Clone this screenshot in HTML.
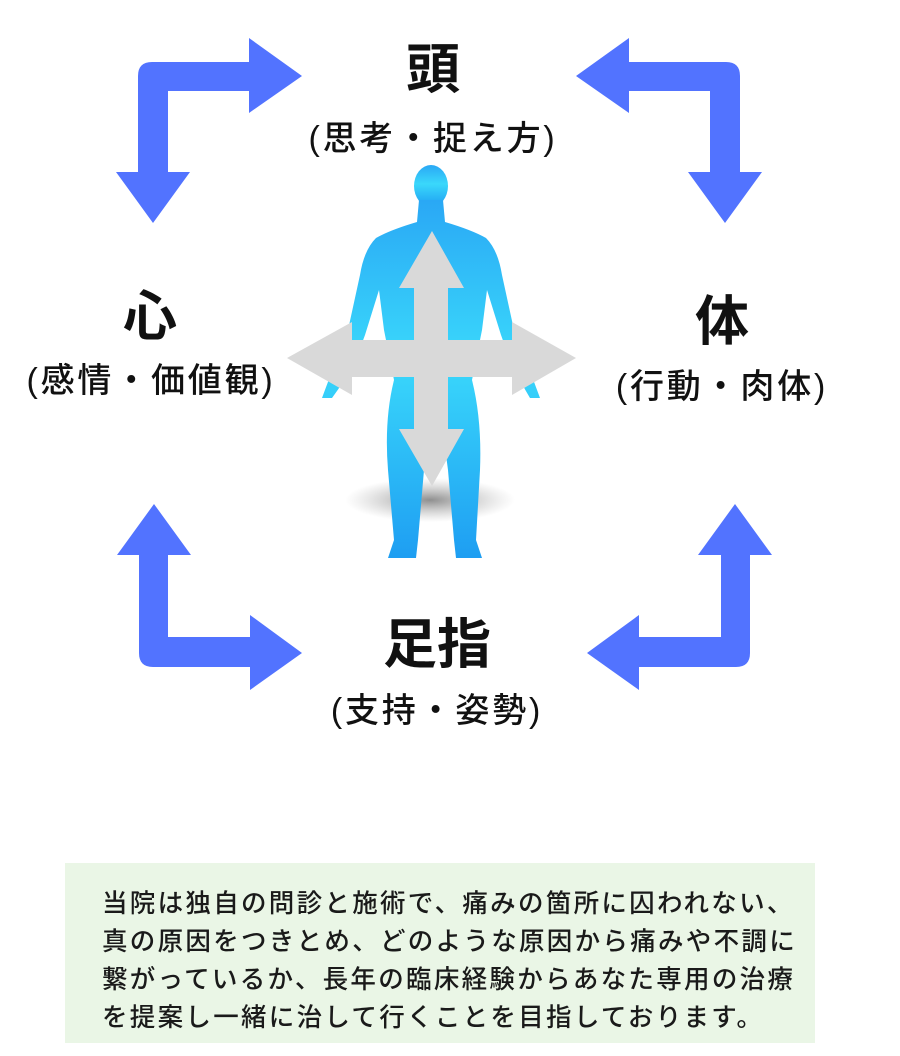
<!DOCTYPE html>
<html><head><meta charset="utf-8"><style>
html,body{margin:0;padding:0;background:#fff}
body{width:900px;height:1056px;position:relative;overflow:hidden;font-family:"Liberation Sans","Noto Sans CJK JP",sans-serif;color:#111}
.t{position:absolute;text-align:center;white-space:nowrap;line-height:1}
.big{font-size:54px;font-weight:bold}
.lab{font-size:34px;font-weight:500;letter-spacing:2.8px}
.box{position:absolute;left:65px;top:863px;width:750px;height:180px;background:#eaf6e6}
.box p{margin:0;position:absolute;left:37px;top:20px;font-size:25.5px;font-weight:500;line-height:38px;letter-spacing:2.3px;white-space:nowrap;font-family:"Noto Sans CJK JP",sans-serif;color:#1a1a1a}
</style></head><body>
<svg width="900" height="1056" style="position:absolute;left:0;top:0">
<defs>
<linearGradient id="bg" x1="0" y1="0" x2="0" y2="1"><stop offset="0" stop-color="#2aa8f5"/><stop offset="0.45" stop-color="#3ad8fb"/><stop offset="1" stop-color="#1e9ef2"/></linearGradient>
<radialGradient id="sh"><stop offset="0" stop-color="#444" stop-opacity=".6"/><stop offset="1" stop-color="#888" stop-opacity="0"/></radialGradient>
</defs>
<g fill="#5273ff">
<path d="M138,76 Q138,62 152,62 L249,62 L249,38 L302,76 L249,113 L249,91 L168,91 L168,172 L190,172 L153,223 L116,172 L138,172 Z"/>
<path transform="translate(878,0) scale(-1,1)" d="M138,76 Q138,62 152,62 L249,62 L249,38 L302,76 L249,113 L249,91 L168,91 L168,172 L190,172 L153,223 L116,172 L138,172 Z"/>
<path d="M750,653 Q750,667 736,667 L639,667 L639,690 L587,653 L639,615 L639,637 L721,637 L721,555 L698,555 L735,504 L772,555 L750,555 Z"/>
<path transform="translate(889,0) scale(-1,1)" d="M750,653 Q750,667 736,667 L639,667 L639,690 L587,653 L639,615 L639,637 L721,637 L721,555 L698,555 L735,504 L772,555 L750,555 Z"/>
</g>
<ellipse cx="430" cy="500" rx="85" ry="22" fill="url(#sh)"/>
<g fill="url(#bg)">
<ellipse cx="431" cy="186" rx="17" ry="21"/>
<path d="M419,200 L443,200 L445,222 Q472,230 486,238 Q498,250 502,275 L514,330 Q526,360 540,398 L530,398 Q513,370 501,335 L487,290 L482,330 L472,380 Q482,420 480,470 L476,540 L482,558 L456,558 L454,540 L448,470 L440,410 L432,410 L424,470 L418,540 L416,558 L388,558 L394,540 L388,470 Q384,420 394,380 L384,330 L379,290 L365,335 Q353,370 332,398 L322,398 Q336,360 348,330 L360,275 Q364,250 376,238 Q390,230 417,222 Z"/>
</g>
<g fill="#d9d9d9">
<polygon points="287,358 352,322 352,340 512,340 512,322 576,358 512,395 512,377 352,377 352,395"/>
<polygon points="432,231 464,288 448,288 448,429 464,429 432,486 399,429 414,429 414,288 399,288"/>
</g>
</svg>
<div class="t big" style="left:383px;top:43px;width:100px">頭</div>
<div class="t lab" style="left:283px;top:122px;width:300px">(思考・捉え方)</div>
<div class="t big" style="left:100px;top:290px;width:100px">心</div>
<div class="t lab" style="left:0px;top:364px;width:302px">(感情・価値観)</div>
<div class="t big" style="left:672px;top:295px;width:100px">体</div>
<div class="t lab" style="left:572px;top:370px;width:300px">(行動・肉体)</div>
<div class="t big" style="left:337px;top:618px;width:200px">足指</div>
<div class="t lab" style="left:287px;top:694px;width:300px">(支持・姿勢)</div>
<div class="box"><p>当院は独自の問診と施術で、痛みの箇所に囚われない、<br>真の原因をつきとめ、どのような原因から痛みや不調に<br>繋がっているか、長年の臨床経験からあなた専用の治療<br>を提案し一緒に治して行くことを目指しております。</p></div>
</body></html>
